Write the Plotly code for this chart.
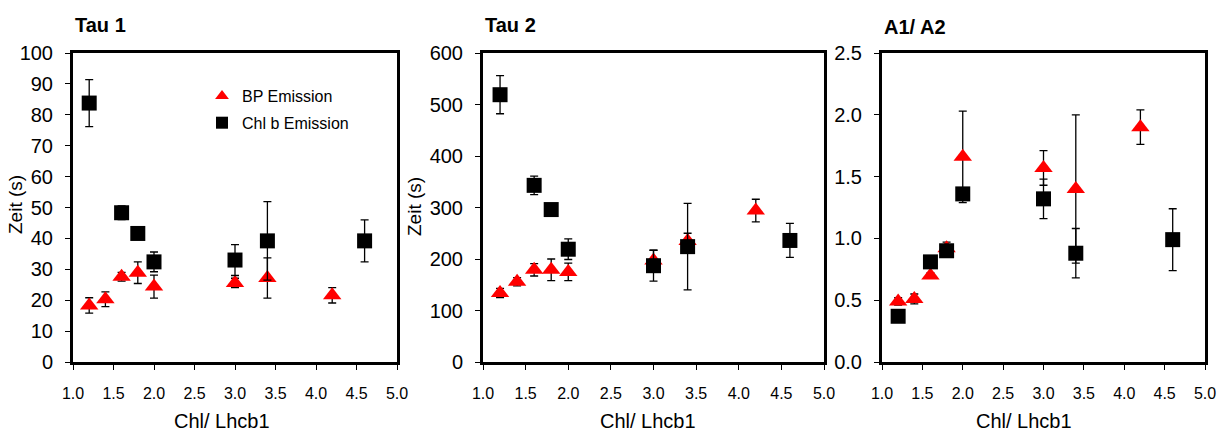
import plotly.graph_objects as go

# ---------------- data ----------------
x_bp_tau1 = [1.2, 1.4, 1.6, 1.8, 2.0, 3.0, 3.4, 4.2]
bp_tau1 = [18.3, 20.3, 27.6, 28.9, 24.4, 25.6, 27.2, 21.6]
bp_tau1_err = [2.5, 2.4, 1.4, 3.5, 3.7, 1.5, 6.5, 2.5]

x_chl_tau1 = [1.2, 1.6, 1.8, 2.0, 3.0, 3.4, 4.6]
chl_tau1 = [83.8, 48.3, 41.6, 32.4, 33.0, 39.2, 39.2]
chl_tau1_err = [7.6, 2.2, 1.0, 3.2, 5.0, 12.7, 6.8]

x_bp_tau2 = [1.2, 1.4, 1.6, 1.8, 2.0, 3.0, 3.4, 4.2]
bp_tau2 = [134, 156, 179, 179, 175, 197, 235, 294]
bp_tau2_err = [9, 8, 12, 21, 17, 20, 15, 22]

x_chl_tau2 = [1.2, 1.6, 1.8, 2.0, 3.0, 3.4, 4.6]
chl_tau2 = [519, 343, 296, 219, 187, 224, 236]
chl_tau2_err = [37, 18, 5, 20, 30, 84, 33]

x_bp_ratio = [1.2, 1.4, 1.6, 1.8, 2.0, 3.0, 3.4, 4.2]
bp_ratio = [0.49, 0.51, 0.70, 0.92, 1.66, 1.57, 1.40, 1.90]
bp_ratio_err = [0.03, 0.04, 0.02, 0.05, 0.37, 0.14, 0.60, 0.14]

x_chl_ratio = [1.2, 1.6, 1.8, 2.0, 3.0, 3.4, 4.6]
chl_ratio = [0.37, 0.81, 0.90, 1.36, 1.32, 0.88, 0.99]
chl_ratio_err = [0.0, 0.02, 0.03, 0.05, 0.16, 0.20, 0.25]

panel_titles = ["Tau 1", "Tau 2", "A1/ A2"]
series_names = ["BP Emission", "Chl b Emission"]
x_title = "Chl/ Lhcb1"
y_title = "Zeit (s)"
x_ticks = [1.0, 1.5, 2.0, 2.5, 3.0, 3.5, 4.0, 4.5, 5.0]
y_ranges = [[0, 100], [0, 600], [0, 2.5]]
y_dticks = [10, 100, 0.5]
y_formats = ["d", "d", ".1f"]

# ---------------- layout geometry (pixels) ----------------
W, H = 1226, 435
x_dom_px = [(73, 397), (483, 824), (882, 1205)]
y_top_px, y_bot_px = 53, 362

FONT = "Arial, Liberation Sans, sans-serif"
RED = "#ff0000"
BLACK = "#000000"

fig = go.Figure()

panels = [
    (x_bp_tau1, bp_tau1, bp_tau1_err, x_chl_tau1, chl_tau1, chl_tau1_err),
    (x_bp_tau2, bp_tau2, bp_tau2_err, x_chl_tau2, chl_tau2, chl_tau2_err),
    (x_bp_ratio, bp_ratio, bp_ratio_err, x_chl_ratio, chl_ratio, chl_ratio_err),
]

for i, (xb, yb, eb, xc, yc, ec) in enumerate(panels):
    xa = "x" if i == 0 else f"x{i+1}"
    ya = "y" if i == 0 else f"y{i+1}"
    fig.add_trace(go.Scatter(
        x=xb, y=yb, mode="markers", name=series_names[0],
        xaxis=xa, yaxis=ya, legendgroup="bp", showlegend=(i == 0),
        marker=dict(symbol="triangle-up", size=16, color=RED),
        error_y=dict(type="data", array=eb, visible=True, color=BLACK,
                     thickness=1.3, width=4),
    ))
    fig.add_trace(go.Scatter(
        x=xc, y=yc, mode="markers", name=series_names[1],
        xaxis=xa, yaxis=ya, legendgroup="chl", showlegend=(i == 0),
        marker=dict(symbol="square", size=15, color=BLACK),
        error_y=dict(type="data", array=ec, visible=True, color=BLACK,
                     thickness=1.3, width=4),
    ))

y_dom = [1 - y_bot_px / H, 1 - y_top_px / H]
layout = dict(
    width=W, height=H,
    margin=dict(l=0, r=0, t=0, b=0, pad=0, autoexpand=False),
    paper_bgcolor="white", plot_bgcolor="white",
    font=dict(family=FONT, color=BLACK),
    showlegend=True,
    legend=dict(
        x=202 / W, y=1 - 79 / H, xanchor="left", yanchor="top",
        bgcolor="rgba(0,0,0,0)", font=dict(size=16, family=FONT),
        itemsizing="constant", tracegroupgap=3,
    ),
)
for i in range(3):
    sx = "" if i == 0 else str(i + 1)
    x0, x1 = x_dom_px[i]
    layout[f"xaxis{sx}"] = dict(
        domain=[x0 / W, x1 / W], range=[1, 5], tickvals=x_ticks,
        tickformat=".1f", anchor=f"y{sx}", automargin=False,
        showline=True, mirror=True, linewidth=3, linecolor=BLACK,
        ticks="outside", ticklen=5, tickwidth=1, tickcolor=BLACK,
        showgrid=False, zeroline=False, ticklabelstandoff=10,
        tickfont=dict(size=16, family=FONT, color=BLACK),
    )
    layout[f"yaxis{sx}"] = dict(
        domain=y_dom, range=y_ranges[i], dtick=y_dticks[i], tick0=0,
        tickformat=y_formats[i], anchor=f"x{sx}", automargin=False,
        showline=True, mirror=True, linewidth=3, linecolor=BLACK,
        ticks="outside", ticklen=5, tickwidth=1, tickcolor=BLACK,
        showgrid=False, zeroline=False, ticklabelstandoff=8,
        tickfont=dict(size=20, family=FONT, color=BLACK),
    )
fig.update_layout(**layout)

annotations = []
title_px = [(73, 25), (483, 25), (882, 27)]
for i, t in enumerate(panel_titles):
    annotations.append(dict(
        text=f"<b>{t}</b>", xref="paper", yref="paper",
        x=title_px[i][0] / W, y=1 - title_px[i][1] / H,
        xanchor="left", yanchor="middle", showarrow=False,
        font=dict(size=20, family=FONT, color=BLACK),
    ))
xtitle_px = [222, 648, 1024]
for cx in xtitle_px:
    annotations.append(dict(
        text=x_title, xref="paper", yref="paper",
        x=cx / W, y=1 - 421 / H, xanchor="center", yanchor="middle",
        showarrow=False, font=dict(size=20, family=FONT, color=BLACK),
    ))
ytitle_px = [(15, 205), (414, 207)]
for cx, cy in ytitle_px:
    annotations.append(dict(
        text=y_title, xref="paper", yref="paper",
        x=cx / W, y=1 - cy / H, xanchor="center", yanchor="middle",
        textangle=-90, showarrow=False,
        font=dict(size=19, family=FONT, color=BLACK),
    ))
fig.update_layout(annotations=annotations)

fig.write_html("out.html")
